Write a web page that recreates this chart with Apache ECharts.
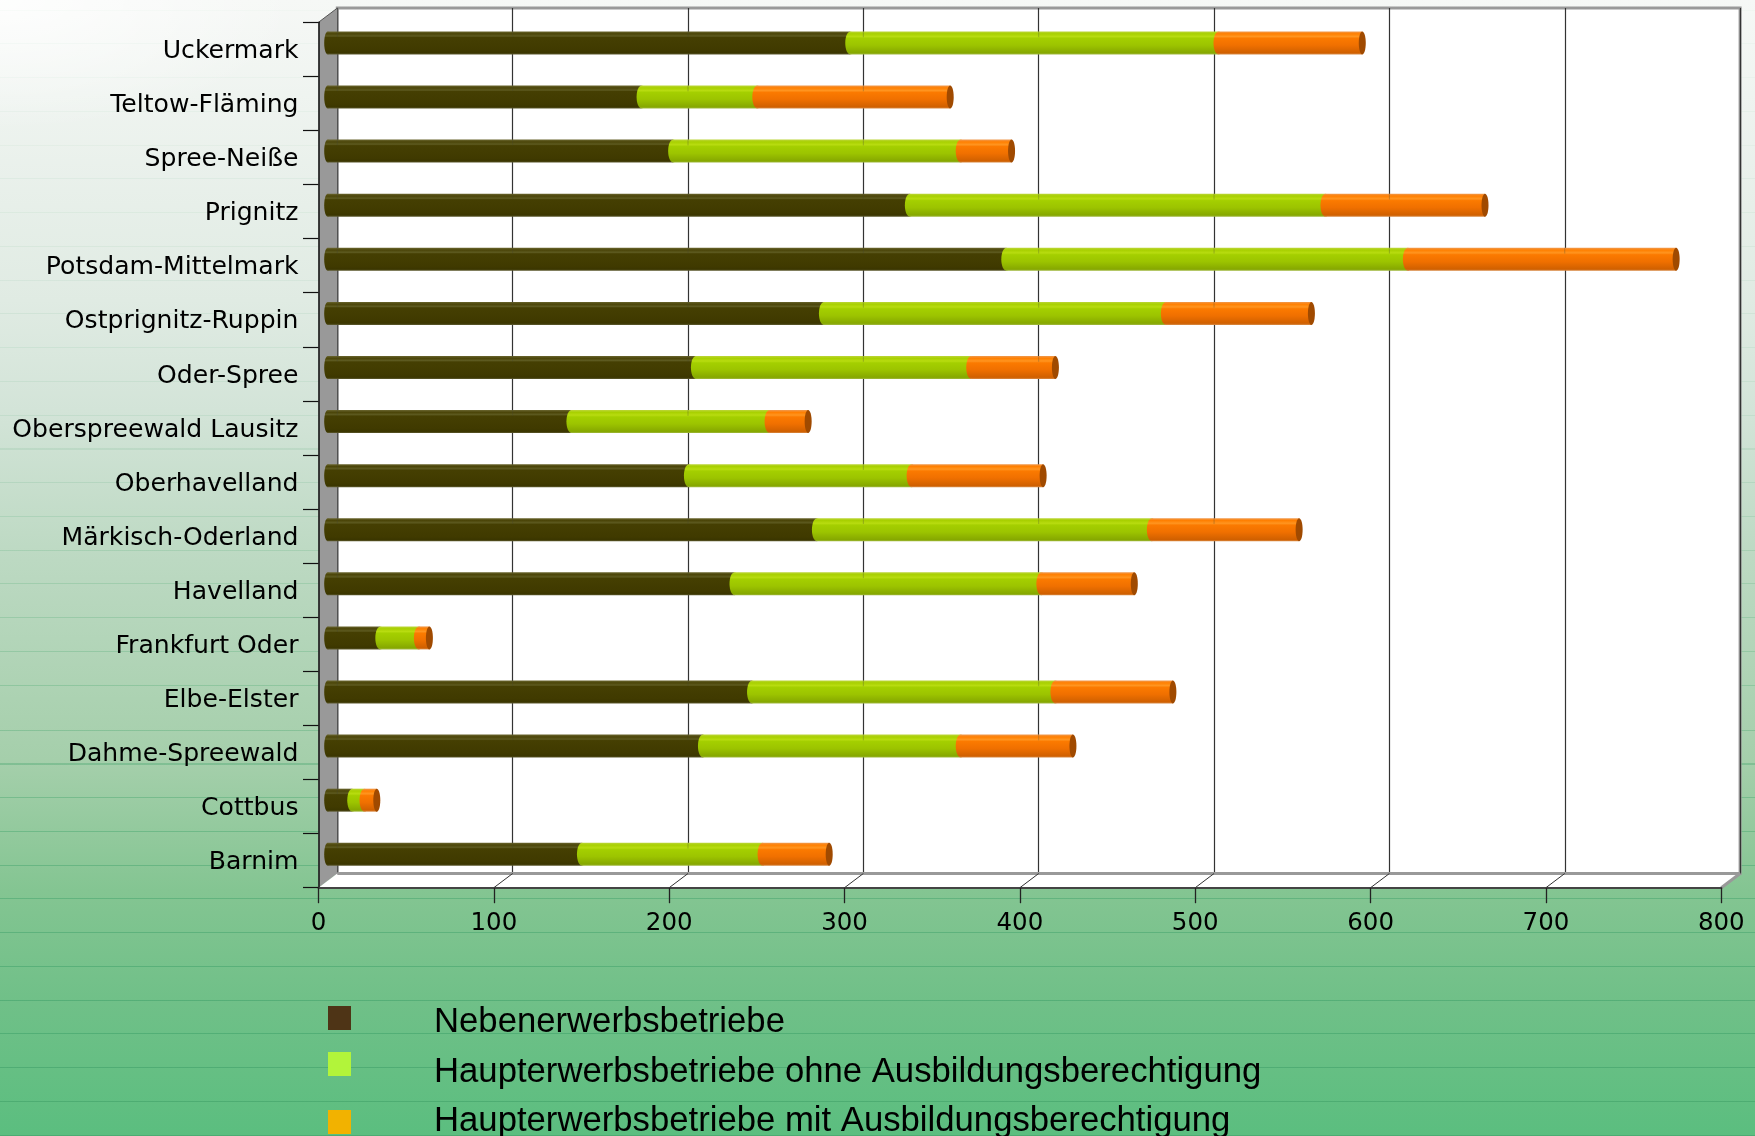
<!DOCTYPE html>
<html><head><meta charset="utf-8">
<script src="https://cdn.jsdelivr.net/npm/echarts@6/dist/echarts.min.js"></script>
<style>
html,body{margin:0;padding:0;width:1755px;height:1136px;overflow:hidden}
#bg{position:absolute;left:0;top:0;width:1755px;height:1136px;
 background:radial-gradient(ellipse 300px 130px at 0 0,rgba(255,255,255,.85),rgba(255,255,255,0)),
 linear-gradient(to bottom,#f6f8f6 0,#e0ebe3 300px,#d3e4d8 410px,#bcd9c2 560px,#a5cfab 760px,#84c592 890px,#70c088 1000px,#5bbe7f 1136px)}
.st{position:absolute;left:0;width:1755px;
 background:repeating-linear-gradient(to bottom,rgba(0,0,0,0) 0,rgba(0,0,0,0) 32.6px,rgba(70,165,110,.75) 32.6px,rgba(70,165,110,.75) 33.75px);
 -webkit-mask-size:1755px 1136px;mask-size:1755px 1136px}
#s1{top:-23px;height:720px;-webkit-mask-image:linear-gradient(to bottom,rgba(0,0,0,.03) 0,rgba(0,0,0,.14) 450px,rgba(0,0,0,.4) 720px);mask-image:linear-gradient(to bottom,rgba(0,0,0,.03) 0,rgba(0,0,0,.14) 450px,rgba(0,0,0,.4) 720px)}
#s2{top:696.5px;height:440px;-webkit-mask-image:linear-gradient(to bottom,rgba(0,0,0,.4) 0,rgba(0,0,0,.7) 200px,rgba(0,0,0,1) 440px);mask-image:linear-gradient(to bottom,rgba(0,0,0,.4) 0,rgba(0,0,0,.7) 200px,rgba(0,0,0,1) 440px)}
#c{position:absolute;left:0;top:0;width:1755px;height:1136px}
</style></head><body><div id="bg"></div><div id="s1" class="st"></div><div id="s2" class="st"></div><div id="c"></div>
<script>
var categories=["Barnim","Cottbus","Dahme-Spreewald","Elbe-Elster","Frankfurt Oder","Havelland","Märkisch-Oderland","Oberhavelland","Oberspreewald Lausitz","Oder-Spree","Ostprignitz-Ruppin","Potsdam-Mittelmark","Prignitz","Spree-Neiße","Teltow-Fläming","Uckermark"];
var nebenerwerb=[145,14,214,242,30,232,279,206,139,210,283,387,332,197,179,298];
var ohneAusbildung=[103,7,147,173,22,175,191,127,113,157,195,229,237,164,66,210];
var mitAusbildung=[38,7,64,67,6,53,84,75,22,48,83,153,91,29,110,82];
var seriesNames=["Nebenerwerbsbetriebe","Haupterwerbsbetriebe ohne Ausbildungsberechtigung","Haupterwerbsbetriebe mit Ausbildungsberechtigung"];
var xTicks=[0,100,200,300,400,500,600,700,800];

var G={l:318.5,t:22.3,w:1402.8,h:865.4},DX=18.8,DY=14.2,BX=9.2,BY=6.4,BAR=23;
var chart=echarts.init(document.getElementById('c'),null,{renderer:'canvas'});
function grad(stops){return new echarts.graphic.LinearGradient(0,0,0,1,stops.map(function(s){return {offset:s[0],color:s[1]}}));}
var skins=[
 [[0,'#6a6630'],[.1,'#4b4508'],[.2,'#5d5a20'],[.26,'#453f02'],[.8,'#403a00'],[.93,'#3b3600'],[1,'#5d5a30']],
 [[0,'#bcd53a'],[.1,'#a8d000'],[.22,'#b8dc10'],[.3,'#a4cf00'],[.6,'#9cc400'],[.93,'#86a800'],[1,'#a0b840']],
 [[0,'#ef9a50'],[.1,'#ff7f00'],[.22,'#ff9520'],[.3,'#fb7a00'],[.6,'#f07000'],[.93,'#d06000'],[1,'#d88a45']]
];
var CAP='#a04a00';
function cyl(idx){return function(params,api){
 var a=api.value(0),z=api.value(1);
 var s=api.coord([a,api.value(2)]),e=api.coord([z,api.value(2)]);
 var y=s[1],h=BAR,rx=idx==0?3.5:5;
 var kids=[{type:'rect',shape:{x:s[0],y:y-h/2,width:e[0]-s[0],height:h},style:{fill:grad(skins[idx])}},
  {type:'ellipse',shape:{cx:s[0],cy:y,rx:rx,ry:h/2},style:{fill:grad(skins[idx])}}];
 xTicks.forEach(function(v){
  var g=api.coord([v,api.value(2)])[0]+DX-BX;
  if(g>s[0]+rx&&g<e[0]-rx){kids.push({type:'line',shape:{x1:g,y1:y-h/2,x2:g,y2:y-h/4},style:{stroke:'rgba(70,70,50,.3)',lineWidth:1}});}
 });
 if(idx==2){kids.push({type:'ellipse',shape:{cx:e[0],cy:y,rx:3.5,ry:h/2},style:{fill:CAP}});}
 return {type:'group',children:kids};
}}
function rows(from,vals){return categories.map(function(c,i){return [from[i],from[i]+vals[i],i]});}
var base=categories.map(function(){return 0});
var r0=rows(base,nebenerwerb),r1=rows(r0.map(function(r){return r[1]}),ohneAusbildung),r2=rows(r1.map(function(r){return r[1]}),mitAusbildung);
function frame(params,api){
 var c=params.coordSys,x=c.x,y=c.y,w=c.width,h=c.height,b=y+h,k=[];
 k.push({type:'polygon',shape:{points:[[x,y],[x+DX,y-DY],[x+DX,b-DY],[x,b]]},style:{fill:'#999999'}});
 k.push({type:'polygon',shape:{points:[[x,b],[x+DX,b-DY],[x+w+DX,b-DY],[x+w,b]]},style:{fill:'#ffffff'}});
 k.push({type:'line',shape:{x1:x+w,y1:b,x2:x+w+DX,y2:b-DY},style:{stroke:'#999999',lineWidth:3}});
 k.push({type:'line',shape:{x1:x,y1:y,x2:x+DX,y2:y-DY},style:{stroke:'#555555',lineWidth:1}});
 k.push({type:'line',shape:{x1:x+DX,y1:b-DY,x2:x+w+DX,y2:b-DY},style:{stroke:'#999999',lineWidth:3}});
 xTicks.forEach(function(v){if(v==0||v==800)return;var p=api.coord([v,0])[0];
  k.push({type:'line',shape:{x1:p,y1:b,x2:p+DX,y2:b-DY},style:{stroke:'#333333',lineWidth:1}});});
 return {type:'group',children:k};
}
function hiddenX(i){return {type:'value',gridIndex:i,min:0,max:800,interval:100,axisLabel:{show:false},axisLine:{show:false},axisTick:{show:false},splitLine:{show:false}};}
function hiddenY(i){return {type:'category',gridIndex:i,data:categories,axisLabel:{show:false},axisLine:{show:false},axisTick:{show:false},splitLine:{show:false}};}
var backX=hiddenX(1);backX.splitLine={show:true,lineStyle:{color:'#333333',width:1.2}};
var font='"DejaVu Sans"';
function legend(i,top,colorHex){return {show:true,orient:'vertical',left:328,top:top,padding:0,itemWidth:23,itemHeight:24,selectedMode:false,icon:'rect',
  formatter:function(){return ''},
  data:[{name:seriesNames[i],itemStyle:{color:colorHex,opacity:1,borderWidth:0}}]};}
function legendText(i,y){return {type:'text',left:434,top:y,z:30,style:{text:seriesNames[i],fill:'#000',font:'34.7px "Liberation Sans"'}};}
chart.setOption({
 animation:false,backgroundColor:'transparent',
 legend:[legend(0,1006,'#4e3416'),legend(1,1052,'#b2f43a'),legend(2,1110,'#f2b200')],
 graphic:[legendText(0,1004.5),legendText(1,1054.5),legendText(2,1103.8)],
 grid:[
  {left:G.l,top:G.t,width:G.w,height:G.h,show:false},
  {left:G.l+DX,top:G.t-DY,width:G.w,height:G.h,show:true,backgroundColor:'#ffffff',borderColor:'#999999',borderWidth:3,z:0},
  {left:G.l+BX,top:G.t-BY,width:G.w,height:G.h,show:false},
  {left:G.l,top:G.t+2.2,width:G.w,height:G.h,show:false}
 ],
 xAxis:[
  {type:'value',gridIndex:0,min:0,max:800,interval:100,z:10,axisLine:{show:true,onZero:false,lineStyle:{color:'#444444',width:2}},
   axisTick:{show:true,length:15.5,lineStyle:{color:'#222',width:1.3}},splitLine:{show:false},
   axisLabel:{margin:23,color:'#000',fontFamily:font,fontSize:24.5,formatter:function(v){return String(v)}}},
  backX,hiddenX(2),hiddenX(3)
 ],
 yAxis:[
  {type:'category',gridIndex:0,data:categories,z:10,axisLine:{show:true,lineStyle:{color:'#111',width:1.5}},
   axisTick:{show:true,length:15.5,alignWithLabel:false,lineStyle:{color:'#111',width:1.2}},splitLine:{show:false},
   axisLabel:{show:false}},
  hiddenY(1),hiddenY(2),
  {type:'category',gridIndex:3,data:categories,z:10,axisLine:{show:false},axisTick:{show:false},splitLine:{show:false},
   axisLabel:{margin:20,color:'#000',fontFamily:font,fontSize:25.1,interval:0}}
 ],
 series:[
  {type:'custom',xAxisIndex:0,yAxisIndex:0,z:2,silent:true,clip:false,renderItem:frame,data:[[0,0]],encode:{x:0,y:1}},
  {name:seriesNames[0],type:'custom',xAxisIndex:2,yAxisIndex:2,z:20,clip:false,renderItem:cyl(0),data:r0,encode:{x:[0,1],y:2},itemStyle:{color:'#4e3416'}},
  {name:seriesNames[1],type:'custom',xAxisIndex:2,yAxisIndex:2,z:21,clip:false,renderItem:cyl(1),data:r1,encode:{x:[0,1],y:2},itemStyle:{color:'#b2f43a'}},
  {name:seriesNames[2],type:'custom',xAxisIndex:2,yAxisIndex:2,z:22,clip:false,renderItem:cyl(2),data:r2,encode:{x:[0,1],y:2},itemStyle:{color:'#f2b200'}}
 ]
});
</script></body></html>
